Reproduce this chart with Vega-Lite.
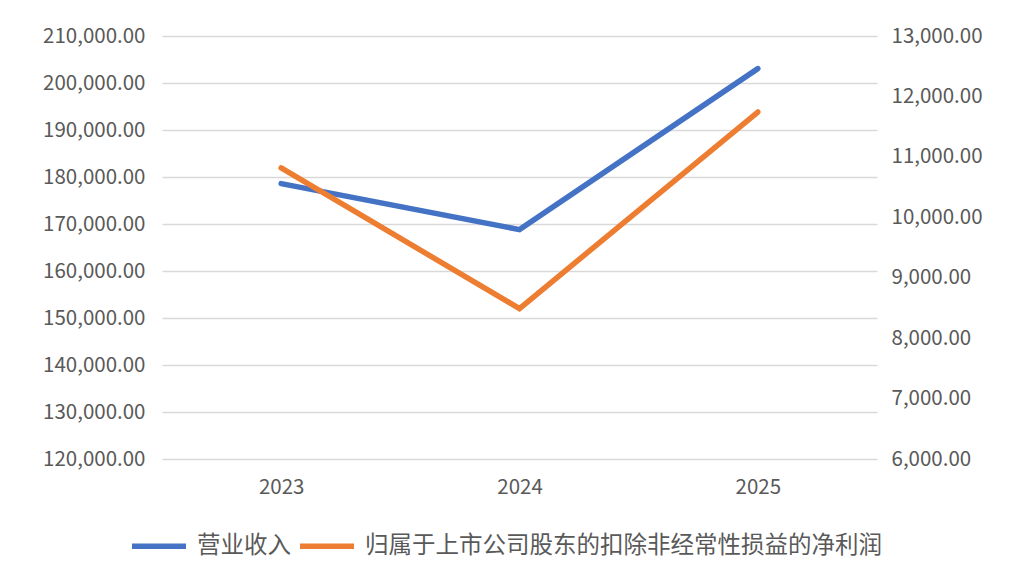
{
  "$schema": "https://vega.github.io/schema/vega-lite/v6.json",
  "autosize": {"type": "none"},
  "width": 715,
  "height": 423,
  "padding": {"left": 162, "top": 36, "right": 135, "bottom": 122},
  "background": "#ffffff",
  "config": {
    "view": {"stroke": null},
    "font": "Noto Sans CJK SC",
    "axis": {
      "labelFont": "Noto Sans CJK SC",
      "labelColor": "#595959",
      "labelFontSize": 20.5,
      "ticks": false,
      "domain": false,
      "title": null
    }
  },
  "data": {
    "values": [
      {"year": "2023", "revenue": 178600, "profit": 10816},
      {"year": "2024", "revenue": 168810, "profit": 8489},
      {"year": "2025", "revenue": 203060, "profit": 11742}
    ]
  },
  "encoding": {
    "x": {
      "field": "year",
      "type": "ordinal",
      "scale": {"type": "point", "padding": 0.5},
      "axis": {"labelAngle": 0, "grid": false, "labelPadding": 18}
    }
  },
  "layer": [
    {
      "mark": {"type": "line", "strokeWidth": 5.5, "strokeCap": "round", "strokeJoin": "miter"},
      "encoding": {
        "y": {
          "field": "revenue",
          "type": "quantitative",
          "scale": {"domain": [120000, 210000], "nice": false, "zero": false},
          "axis": {
            "orient": "left",
            "values": [120000, 130000, 140000, 150000, 160000, 170000, 180000, 190000, 200000, 210000],
            "format": ",.2f",
            "grid": true,
            "gridColor": "#d9d9d9",
            "gridWidth": 1.5,
            "labelPadding": 17
          }
        },
        "color": {
          "datum": "营业收入",
          "type": "nominal",
          "scale": {
            "domain": ["营业收入", "归属于上市公司股东的扣除非经常性损益的净利润"],
            "range": ["#4472C4", "#ED7D31"]
          },
          "legend": {
            "title": null,
            "orient": "none",
            "direction": "horizontal",
            "legendX": -33,
            "legendY": 480,
            "symbolType": "stroke",
            "symbolSize": 2916,
            "symbolStrokeWidth": 5.5,
            "labelFontSize": 23.5,
            "labelColor": "#595959",
            "labelFont": "Noto Sans CJK SC",
            "labelOffset": 8,
            "columnPadding": -2,
            "labelLimit": 800
          }
        }
      }
    },
    {
      "mark": {"type": "line", "strokeWidth": 5.5, "strokeCap": "round", "strokeJoin": "miter"},
      "encoding": {
        "y": {
          "field": "profit",
          "type": "quantitative",
          "scale": {"domain": [6000, 13000], "nice": false, "zero": false},
          "axis": {
            "orient": "right",
            "values": [6000, 7000, 8000, 9000, 10000, 11000, 12000, 13000],
            "format": ",.2f",
            "grid": false,
            "labelPadding": 14
          }
        },
        "color": {"datum": "归属于上市公司股东的扣除非经常性损益的净利润", "type": "nominal"}
      }
    }
  ],
  "resolve": {"scale": {"y": "independent"}}
}
